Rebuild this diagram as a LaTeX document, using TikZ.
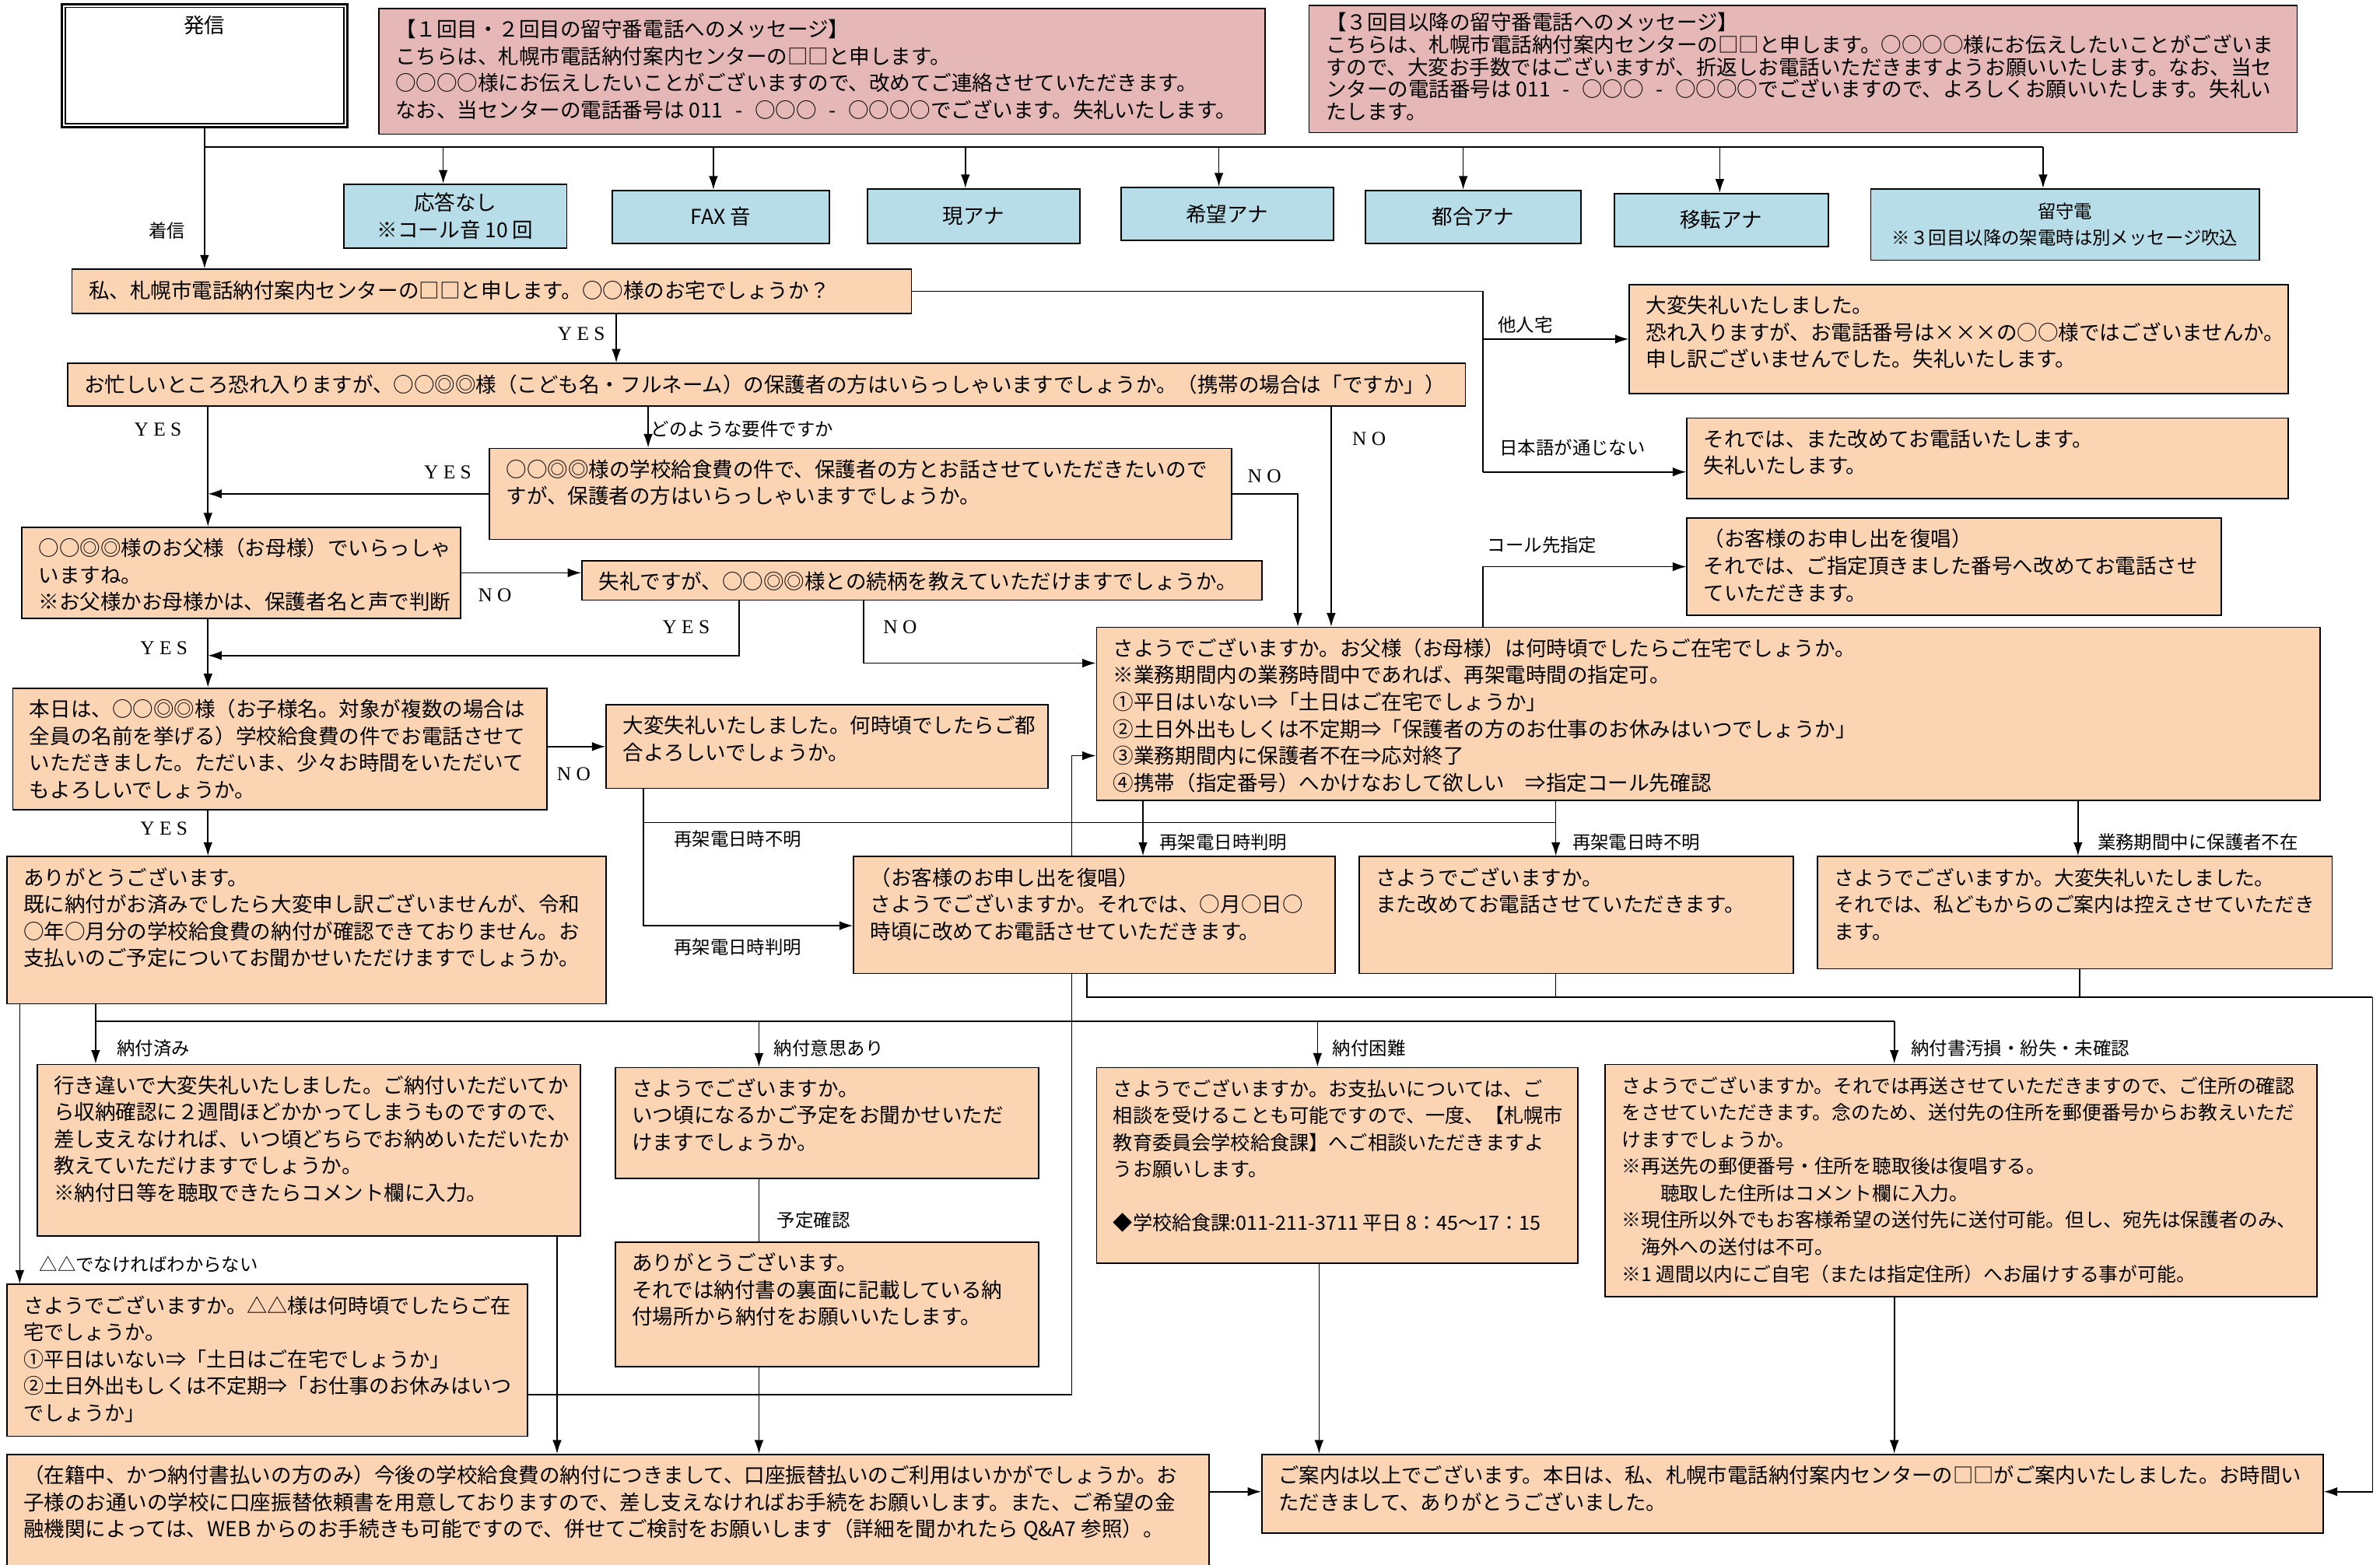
\documentclass[tikz,border=0pt]{standalone}
\usepackage{fontspec}
\setmainfont{Noto Sans CJK JP}
\newfontfamily\latinserif{Liberation Serif}
\usepackage{tikz}
\usetikzlibrary{arrows.meta, positioning, calc, backgrounds}

\definecolor{peach}{RGB}{251,212,180}
\definecolor{skyblue}{RGB}{183,221,232}
\definecolor{rose}{RGB}{229,184,183}

\newcommand{\bodyfont}{\fontsize{13.6}{17.7}\selectfont}
\newcommand{\tagfont}{\fontsize{12}{14}\selectfont}
\newcommand{\ynfont}{\latinserif\fontsize{13}{14}\selectfont}
\newcommand{\card}[3]{\begin{minipage}[c][#2pt][t]{#1pt}\vspace*{6.5pt}\noindent\hspace*{11pt}\begin{tabular}[t]{@{}l@{}}#3\end{tabular}\end{minipage}}
\newcommand{\dash}{\hspace{8pt}-\hspace{8pt}}

\begin{document}
\begin{tikzpicture}[x=1pt, y=-1pt,
    card/.style={draw, line width=0.9pt, fill=peach, anchor=north west, inner sep=0pt, font=\bodyfont},
    memo/.style={card, fill=rose},
    tone/.style={draw, line width=0.9pt, fill=skyblue, anchor=north west, inner sep=0pt, align=center, font=\bodyfont},
    tag/.style={font=\tagfont, inner sep=0pt},
    yn/.style={font=\ynfont, inner sep=0pt},
    arr/.style={-{Latex[length=9pt,width=6pt]}, line width=0.8pt},
    wire/.style={line width=0.8pt}]

\useasboundingbox (0,0) rectangle (1568,1031);

% call and answering machine
\node[draw, line width=1.5pt, fill=white, anchor=north west, inner sep=0pt, font=\bodyfont] (hassin) at (40,2)
    {\begin{minipage}[c][81pt][t]{188pt}\centering\vspace*{6.5pt}\strut 発信\end{minipage}};
\draw[line width=0.7pt] ([shift={(3pt,-3pt)}]hassin.north west) rectangle ([shift={(-3pt,3pt)}]hassin.south east);

\node[memo] (msg1) at (249,5) {\card{584}{83}{【１回目・２回目の留守番電話へのメッセージ】\\
    こちらは、札幌市電話納付案内センターの□□と申します。\\
    ○○○○様にお伝えしたいことがございますので、改めてご連絡させていただきます。\\
    なお、当センターの電話番号は 011\dash ○○○\dash ○○○○でございます。失礼いたします。}};
\node[memo, font=\fontsize{13.6}{14.7}\selectfont] (msg2) at (862,3) {\begin{minipage}[c][84pt][t]{651pt}\vspace*{5pt}\leftskip=11pt\noindent
    \mbox{【３回目以降の留守番電話へのメッセージ】}\\
    \mbox{こちらは、札幌市電話納付案内センターの□□と申します。○○○○様にお伝えしたいことがございま}\\
    \mbox{すので、大変お手数ではございますが、折返しお電話いただきますようお願いいたします。なお、当セ}\\
    \mbox{ンターの電話番号は 011\dash ○○○\dash ○○○○でございますので、よろしくお願いいたします。失礼い}\\
    \mbox{たします。}\end{minipage}};

\node[tone, minimum width=147pt, minimum height=42pt] (b1) at (226,121) {応答なし\\※コール音 10 回};
\node[tone, minimum width=143pt, minimum height=35pt] (b2) at (403,125) {FAX 音};
\node[tone, minimum width=140pt, minimum height=36pt] (b3) at (571,124) {現アナ};
\node[tone, minimum width=140pt, minimum height=35pt] (b4) at (738,123) {希望アナ};
\node[tone, minimum width=142pt, minimum height=35pt] (b5) at (899,125) {都合アナ};
\node[tone, minimum width=141pt, minimum height=35pt] (b6) at (1063,127) {移転アナ};
\node[tone, minimum width=256pt, minimum height=47pt, font=\fontsize{12}{17.7}\selectfont] (b7) at (1232,124) {留守電\\※３回目以降の架電時は別メッセージ吹込};

% talk script
\node[card] (greet) at (47,177) {\card{553}{29}{私、札幌市電話納付案内センターの□□と申します。○○様のお宅でしょうか？}};
\node[card] (ask) at (44,239) {\card{921}{28}{お忙しいところ恐れ入りますが、○○◎◎様（こども名・フルネーム）の保護者の方はいらっしゃいますでしょうか。（携帯の場合は「ですか」）}};
\node[card] (tanin) at (1073,187) {\card{434}{72}{大変失礼いたしました。\\恐れ入りますが、お電話番号は×××の○○様ではございませんか。\\申し訳ございませんでした。失礼いたします。}};
\node[card] (nihongo) at (1111,275) {\card{396}{53}{それでは、また改めてお電話いたします。\\失礼いたします。}};
\node[card] (youken) at (322,295) {\card{489}{60}{○○◎◎様の学校給食費の件で、保護者の方とお話させていただきたいので\\すが、保護者の方はいらっしゃいますでしょうか。}};
\node[card] (father) at (14,347) {\card{289}{60}{○○◎◎様のお父様（お母様）でいらっしゃ\\いますね。\\※お父様かお母様かは、保護者名と声で判断}};
\node[card] (zokugara) at (383,369) {\card{448}{26}{失礼ですが、○○◎◎様との続柄を教えていただけますでしょうか。}};
\node[card] (callto) at (1111,341) {\card{352}{64}{（お客様のお申し出を復唱）\\それでは、ご指定頂きました番号へ改めてお電話させ\\ていただきます。}};
\node[card] (when) at (722,413) {\card{806}{114}{さようでございますか。お父様（お母様）は何時頃でしたらご在宅でしょうか。\\
    ※業務期間内の業務時間中であれば、再架電時間の指定可。\\
    ①平日はいない⇒「土日はご在宅でしょうか」\\
    ②土日外出もしくは不定期⇒「保護者の方のお仕事のお休みはいつでしょうか」\\
    ③業務期間内に保護者不在⇒応対終了\\
    ④携帯（指定番号）へかけなおして欲しい　⇒指定コール先確認}};
\node[card] (honjitsu) at (8,453) {\card{352}{80}{本日は、○○◎◎様（お子様名。対象が複数の場合は\\全員の名前を挙げる）学校給食費の件でお電話させて\\いただきました。ただいま、少々お時間をいただいて\\もよろしいでしょうか。}};
\node[card] (tsugou) at (399,464) {\card{291}{55}{大変失礼いたしました。何時頃でしたらご都\\合よろしいでしょうか。}};
\node[card] (fukushou) at (562,564) {\card{317}{77}{（お客様のお申し出を復唱）\\さようでございますか。それでは、○月○日○\\時頃に改めてお電話させていただきます。}};
\node[card] (mata) at (895,564) {\card{286}{77}{さようでございますか。\\また改めてお電話させていただきます。}};
\node[card, font=\fontsize{13.2}{17.7}\selectfont] (fuzai) at (1197,564) {\card{339}{74}{さようでございますか。大変失礼いたしました。\\それでは、私どもからのご案内は控えさせていただき\\ます。}};
\node[card] (arigatou) at (4,564) {\card{395}{97}{ありがとうございます。\\既に納付がお済みでしたら大変申し訳ございませんが、令和\\○年○月分の学校給食費の納付が確認できておりません。お\\支払いのご予定についてお聞かせいただけますでしょうか。}};
\node[card] (sumi) at (24,701) {\card{358}{113}{行き違いで大変失礼いたしました。ご納付いただいてか\\ら収納確認に２週間ほどかかってしまうものですので、\\差し支えなければ、いつ頃どちらでお納めいただいたか\\教えていただけますでしょうか。\\※納付日等を聴取できたらコメント欄に入力。}};
\node[card] (ishi) at (405,703) {\card{279}{73}{さようでございますか。\\いつ頃になるかご予定をお聞かせいただ\\けますでしょうか。}};
\node[card] (yotei) at (405,818) {\card{279}{82}{ありがとうございます。\\それでは納付書の裏面に記載している納\\付場所から納付をお願いいたします。}};
\node[card, font=\fontsize{12.9}{17.7}\selectfont] (konnan) at (722,703) {\card{317}{129}{さようでございますか。お支払いについては、ご\\相談を受けることも可能ですので、一度、【札幌市\\教育委員会学校給食課】へご相談いただきますよ\\うお願いします。\\ \\◆学校給食課:011-211-3711 平日 8：45～17：15}};
\node[card, font=\fontsize{12.7}{17.7}\selectfont] (oson) at (1057,701) {\card{469}{153}{さようでございますか。それでは再送させていただきますので、ご住所の確認\\
    をさせていただきます。念のため、送付先の住所を郵便番号からお教えいただ\\
    けますでしょうか。\\
    ※再送先の郵便番号・住所を聴取後は復唱する。\\
    　　聴取した住所はコメント欄に入力。\\
    ※現住所以外でもお客様希望の送付先に送付可能。但し、宛先は保護者のみ、\\
    　海外への送付は不可。\\
    ※1 週間以内にご自宅（または指定住所）へお届けする事が可能。}};
\node[card, font=\fontsize{13.4}{17.7}\selectfont] (sankaku) at (4,846) {\card{343}{100}{さようでございますか。△△様は何時頃でしたらご在\\宅でしょうか。\\①平日はいない⇒「土日はご在宅でしょうか」\\②土日外出もしくは不定期⇒「お仕事のお休みはいつ\\でしょうか」}};
\node[card] (kouza) at (4,958) {\card{792}{74}{（在籍中、かつ納付書払いの方のみ）今後の学校給食費の納付につきまして、口座振替払いのご利用はいかがでしょうか。お\\
    子様のお通いの学校に口座振替依頼書を用意しておりますので、差し支えなければお手続をお願いします。また、ご希望の金\\
    融機関によっては、WEB からのお手続きも可能ですので、併せてご検討をお願いします（詳細を聞かれたら Q\&A7 参照）。}};
\node[card, font=\fontsize{13.5}{17.7}\selectfont] (owari) at (831,958) {\card{699}{52}{ご案内は以上でございます。本日は、私、札幌市電話納付案内センターの□□がご案内いたしました。お時間い\\ただきまして、ありがとうございました。}};

% labels
\node[tag] (t-chakushin) at (110,152) {着信};
\node[yn] (y-greet) at (383,220) {Y E S};
\node[tag] (t-tanin) at (1005,214) {他人宅};
\node[tag] (t-nihongo) at (1036,295) {日本語が通じない};
\node[yn] (y-ask) at (104,283) {Y E S};
\node[tag] (t-youken) at (489,283) {どのような要件ですか};
\node[yn] (n-ask) at (902,289) {N O};
\node[yn] (y-youken) at (295,311) {Y E S};
\node[yn] (n-youken) at (833,314) {N O};
\node[yn] (n-father) at (326,392) {N O};
\node[yn] (y-zoku) at (452,413) {Y E S};
\node[yn] (n-zoku) at (593,413) {N O};
\node[yn] (y-father) at (108,427) {Y E S};
\node[tag] (t-callto) at (1016,359) {コール先指定};
\node[yn] (n-honjitsu) at (378,510) {N O};
\node[yn] (y-honjitsu) at (108,546) {Y E S};
\node[tag] (t-fumei1) at (486,553) {再架電日時不明};
\node[tag] (t-hanmei1) at (486,624) {再架電日時判明};
\node[tag] (t-hanmei2) at (806,555) {再架電日時判明};
\node[tag] (t-fumei2) at (1078,555) {再架電日時不明};
\node[tag] (t-fuzai) at (1448,555) {業務期間中に保護者不在};
\node[tag] (t-sumi) at (101,691) {納付済み};
\node[tag] (t-ishi) at (546,691) {納付意思あり};
\node[tag] (t-konnan) at (902,691) {納付困難};
\node[tag] (t-oson) at (1331,691) {納付書汚損・紛失・未確認};
\node[tag] (t-yotei) at (536,804) {予定確認};
\node[tag] (t-sankaku) at (98,833) {△△でなければわからない};

% connectors
\begin{scope}[on background layer]
\draw[arr] (hassin.south) -- (hassin.south |- greet.north);
\coordinate (hub) at (hassin.south |- 0,97);
\draw[wire] (hub) -- (hub -| 1346,0);
\foreach \b/\x in {b1/292, b2/470, b3/636, b4/803, b5/964, b6/1133, b7/1346}
    \draw[arr] (hub -| \x,0) -- (\b.north -| \x,0);

\draw[arr] (greet.south -| 406,0) -- (ask.north -| 406,0);
\draw[wire] (greet.east) -| (977,311);
\draw[arr] (tanin.west -| 977,0) -- (tanin.west);
\draw[arr] (977,311) -- (nihongo.west |- 0,311);

\draw[arr] (ask.south -| 137,0) -- (father.north -| 137,0);
\draw[arr] (ask.south -| 427,0) -- (youken.north -| 427,0);
\draw[arr] (ask.south -| 877,0) -- (when.north -| 877,0);
\draw[arr] (youken.west) -- (youken.west -| 137,0);
\draw[arr] (youken.east) -| (when.north -| 855,0);
\draw[arr] (father.east) -- (father.east -| zokugara.west);
\draw[arr] (father.south -| 137,0) -- (honjitsu.north -| 137,0);
\draw[arr] (zokugara.south -| 487,0) |- (137,432);
\draw[arr] (zokugara.south -| 569,0) |- (when.west |- 0,437);
\draw[arr] (when.north -| 977,0) |- (callto.west);

\draw[arr] (honjitsu.east |- 0,492) -- (tsugou.west |- 0,492);
\draw[arr] (honjitsu.south -| 137,0) -- (arigatou.north -| 137,0);
\draw[arr] (tsugou.south -| 424,0) |- (fukushou.west |- 0,610);
\draw[wire] (424,542) -- (1025,542);
\draw[arr] (when.south -| 753,0) -- (fukushou.north -| 753,0);
\draw[arr] (when.south -| 1025,0) -- (mata.north -| 1025,0);
\draw[arr] (when.south -| 1369,0) -- (fuzai.north -| 1369,0);
\draw[arr] (sankaku.east |- 0,919) -| (706,498) -- (when.west |- 0,498);

\draw[wire] (fukushou.south -| 716,0) |- (1563,657);
\draw[wire] (mata.south -| 1025,0) -- (1025,657);
\draw[wire] (fuzai.south -| 1370,0) -- (1370,657);
\draw[arr] (1563,657) |- (owari.east |- 0,983);

\draw[arr] (arigatou.south -| 13,0) -- (sankaku.north -| 13,0);
\draw[wire] (arigatou.south -| 63,0) -- (63,673) -- (1248,673);
\foreach \q/\x in {sumi/63, ishi/500, konnan/868, oson/1248}
    \draw[arr] (\x,673) -- (\q.north -| \x,0);
\draw[wire] (ishi.south -| 500,0) -- (yotei.north -| 500,0);
\draw[arr] (sumi.south -| 367,0) -- (kouza.north -| 367,0);
\draw[arr] (yotei.south -| 500,0) -- (kouza.north -| 500,0);
\draw[arr] (konnan.south -| 869,0) -- (owari.north -| 869,0);
\draw[arr] (oson.south -| 1248,0) -- (owari.north -| 1248,0);
\draw[arr] (kouza.east |- 0,983) -- (owari.west |- 0,983);
\end{scope}
\end{tikzpicture}
\end{document}
